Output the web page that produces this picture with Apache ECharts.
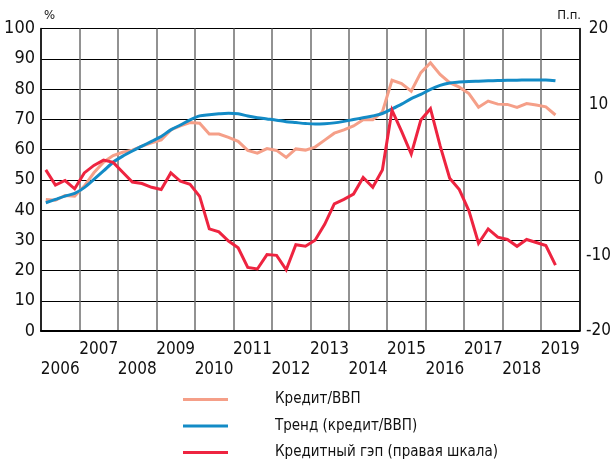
<!DOCTYPE html>
<html>
<head>
<meta charset="utf-8">
<script src="https://cdn.jsdelivr.net/npm/echarts@6/dist/echarts.min.js"></script>
<style>
html,body{margin:0;padding:0;background:#fff;}
#chart{width:614px;height:464px;}
</style>
</head>
<body>
<div id="chart"></div>
<script>
// ---- data ----
const years = [2006,2007,2008,2009,2010,2011,2012,2013,2014,2015,2016,2017,2018,2019];
const quarterNames = ['Q1','Q2','Q3','Q4'];
const leftTicks = [0,10,20,30,40,50,60,70,80,90,100];
const rightTicks = [-20,-10,0,10,20];

const creditGdp = [
  43.5, 43.2, 44.8, 44.6,
  47.9, 52.3, 55.8, 58.0,
  59.1, 59.8, 61.1, 62.2,
  63.2, 66.5, 67.8, 68.9,
  68.7, 65.1, 65.1, 64.0,
  62.7, 59.7, 58.8, 60.3,
  59.7, 57.4, 60.2, 59.8,
  60.8, 63.1, 65.4, 66.5,
  67.8, 69.8, 69.8, 72.4,
  82.9, 81.8, 79.3, 85.4,
  88.7, 84.8, 82.1, 80.6,
  78.5, 74.0, 76.0, 75.0,
  74.9, 73.9, 75.2, 74.7,
  74.1, 71.4
];
const trend = [
  42.4, 43.5, 44.6, 45.5,
  47.4, 50.1, 52.9, 55.8,
  57.8, 59.5, 61.1, 62.7,
  64.3, 66.5, 68.1, 69.8,
  71.1, 71.5, 71.8, 72.0,
  71.8, 71.1, 70.5, 70.1,
  69.7, 69.2, 68.9, 68.6,
  68.4, 68.5, 68.8, 69.3,
  69.9, 70.5, 71.1, 71.9,
  73.4, 75.0, 76.8, 78.2,
  79.9, 81.2, 82.0, 82.3,
  82.5, 82.6, 82.7, 82.8,
  82.9, 82.9, 83.0, 83.0,
  83.0, 82.7
];
const creditGap = [
  1.3, -0.7, -0.1, -1.2,
  0.9, 1.9, 2.6, 2.3,
  1.0, -0.3, -0.5, -1.0,
  -1.3, 0.9, -0.2, -0.6,
  -2.2, -6.5, -6.9, -8.1,
  -9.0, -11.6, -11.8, -9.9,
  -10.0, -11.9, -8.6, -8.8,
  -8.0, -5.9, -3.2, -2.6,
  -1.9, 0.3, -1.0, 1.3,
  9.2, 6.4, 3.4, 7.9,
  9.4, 4.5, 0.2, -1.3,
  -4.1, -8.4, -6.5, -7.6,
  -7.9, -8.8, -7.9, -8.3,
  -8.7, -11.3
];
const seriesNames = ['Кредит/ВВП', 'Тренд (кредит/ВВП)', 'Кредитный гэп (правая шкала)'];
const leftUnit = '%';
const rightUnit = 'П.п.';

// ---- chart ----
const quarters = [];
years.forEach(y => quarterNames.forEach(q => quarters.push(y + ' ' + q)));

const FONT = "'Liberation Sans Narrow', 'Noto Sans ExtraCondensed', 'Noto Sans Condensed', 'DejaVu Sans Condensed', sans-serif";
const colors = ['#F59F88', '#138BC6', '#EE2440'];

const chart = echarts.init(document.getElementById('chart'), null, {renderer: 'canvas'});
chart.setOption({
  animation: false,
  backgroundColor: '#fff',
  textStyle: {fontFamily: FONT},
  grid: {left: 41, right: 33, top: 28.5, bottom: 133, containLabel: false},
  legend: {
    orient: 'vertical',
    left: 183,
    top: 390.5,
    width: 400,
    height: 120,
    padding: 0,
    itemWidth: 45,
    itemHeight: 3,
    itemGap: 8.5,
    icon: 'rect',
    selectedMode: false,
    data: seriesNames,
    textStyle: {fontFamily: FONT, fontSize: 15, color: '#111', lineHeight: 18, padding: [0, 0, 0, 42]}
  },
  graphic: [
    {type: 'text', left: 44, top: 9, style: {text: leftUnit, fontFamily: FONT, fontSize: 13, fill: '#111'}},
    {type: 'text', right: 33, top: 9, style: {text: rightUnit, fontFamily: FONT, fontSize: 13, fill: '#111'}}
  ],
  xAxis: [
    {
      type: 'category',
      data: quarters,
      boundaryGap: true,
      axisLine: {show: true, lineStyle: {color: '#000', width: 2}},
      axisTick: {show: false},
      axisLabel: {show: false},
      splitLine: {show: true, interval: (i) => i % 4 === 0, lineStyle: {color: '#6e6e6e', width: 1.5}}
    },
    {
      type: 'category',
      data: years.map(String),
      boundaryGap: true,
      position: 'bottom',
      axisLine: {show: false},
      axisTick: {show: false},
      splitLine: {show: false},
      axisLabel: {
        interval: 0,
        margin: 9,
        fontFamily: FONT,
        fontSize: 17,
        color: '#111',
        lineHeight: 20,
        formatter: (v, i) => (i % 2 === 0 ? '\n' + v : v)
      }
    }
  ],
  yAxis: [
    {
      type: 'value',
      min: leftTicks[0],
      max: leftTicks[leftTicks.length - 1],
      interval: 10,
      axisLine: {show: true, lineStyle: {color: '#000', width: 1.5}},
      axisTick: {show: false},
      axisLabel: {fontFamily: FONT, fontSize: 18, color: '#111', margin: 6},
      splitLine: {show: true, lineStyle: {color: '#000', width: 1.2}}
    },
    {
      type: 'value',
      position: 'right',
      min: rightTicks[0],
      max: rightTicks[rightTicks.length - 1],
      interval: 10,
      axisLine: {show: true, lineStyle: {color: '#000', width: 1.5}},
      axisTick: {show: false},
      axisLabel: {fontFamily: FONT, fontSize: 17, color: '#111', margin: 19, align: 'center'},
      splitLine: {show: false}
    }
  ],
  series: [
    {
      name: seriesNames[0], type: 'line', data: creditGdp, xAxisIndex: 0, yAxisIndex: 0,
      symbol: 'none', color: colors[0], lineStyle: {width: 3, color: colors[0], join: 'miter'}, z: 3
    },
    {
      name: seriesNames[1], type: 'line', data: trend, xAxisIndex: 0, yAxisIndex: 0,
      symbol: 'none', smooth: 0.3, color: colors[1], lineStyle: {width: 3, color: colors[1]}, z: 4
    },
    {
      name: seriesNames[2], type: 'line', data: creditGap, xAxisIndex: 0, yAxisIndex: 1,
      symbol: 'none', color: colors[2], lineStyle: {width: 3, color: colors[2], join: 'miter'}, z: 5
    }
  ]
});
</script>
</body>
</html>
